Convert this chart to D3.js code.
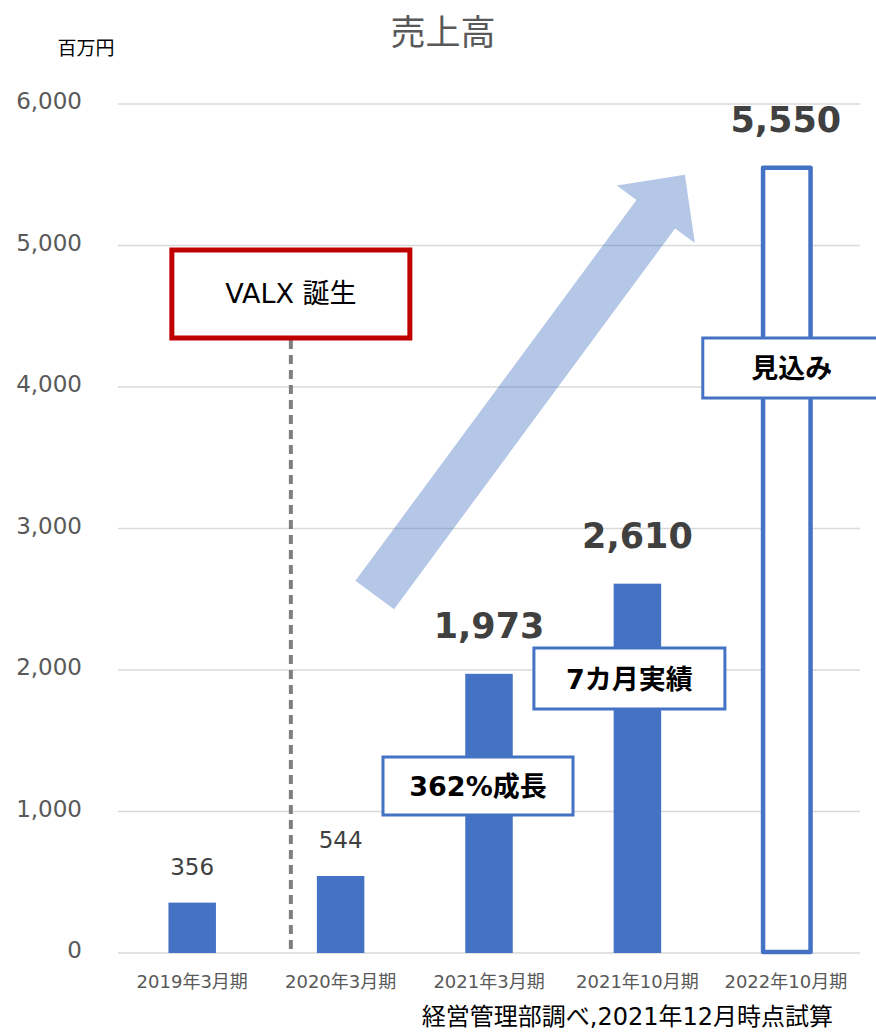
<!DOCTYPE html>
<html lang="ja">
<head>
<meta charset="utf-8" />
<title>売上高</title>
<script src="https://cdn.jsdelivr.net/npm/d3@7"></script>
<style>
  body { margin: 0; background: #fff; }
  svg text { font-family: "DejaVu Sans", "Noto Sans CJK JP", sans-serif; }
  .grid line { stroke: #d9d9d9; stroke-width: 1.5px; }
  .yaxis text, .xaxis text { fill: #595959; }
  .bar { fill: #4472c4; }
  .bar-plan { fill: #fff; stroke: #4472c4; stroke-width: 4.5px; stroke-linejoin: round; }
  .val { fill: #404040; text-anchor: middle; }
  .val-big { font-weight: bold; }
  .note-box { fill: #fff; stroke: #4472c4; stroke-width: 3px; }
  .note-text { fill: #000; font-weight: bold; text-anchor: middle; }
  .valx-box { fill: #fff; stroke: #c00000; stroke-width: 5px; }
  .valx-line { stroke: #7f7f7f; stroke-width: 4px; stroke-dasharray: 9, 6; }
  .growth-arrow { fill: #4472c4; opacity: 0.4; }
</style>
</head>
<body>
<script>
// data
var categories = ["2019年3月期", "2020年3月期", "2021年3月期", "2021年10月期", "2022年10月期"];
var sales = [356, 544, 1973, 2610, 5550];
var bigLabel = [false, false, true, true, true];
var forecast = [false, false, false, false, true];
var yTicks = [0, 1000, 2000, 3000, 4000, 5000, 6000];

var w = 876;
var h = 1033;
var margin = { top: 104, right: 16, bottom: 80, left: 118 };

var svg = d3.select("body").append("svg")
  .attr("width", w)
  .attr("height", h);

var xScale = d3.scaleBand()
  .domain(categories)
  .range([margin.left, w - margin.right])
  .paddingInner(0.68)
  .paddingOuter(0.34);

var yScale = d3.scaleLinear()
  .domain([0, 6000])
  .range([h - margin.bottom, margin.top]);

var bw = xScale.bandwidth();
var step = xScale.step();
// centre of category i (fractional allowed)
function xAt(i) {
  return xScale(categories[0]) + bw / 2 + i * step;
}

// title + unit
svg.append("text")
  .attr("x", 443).attr("y", 45)
  .attr("text-anchor", "middle")
  .style("font-size", "35px")
  .style("fill", "#595959")
  .text("売上高");

svg.append("text")
  .attr("x", 86).attr("y", 55)
  .attr("text-anchor", "middle")
  .style("font-size", "19px")
  .style("fill", "#000")
  .text("百万円");

// gridlines
svg.append("g")
  .attr("class", "grid")
  .selectAll("line")
  .data(yTicks)
  .enter()
  .append("line")
  .attr("x1", margin.left)
  .attr("x2", w - margin.right)
  .attr("y1", function(d) { return yScale(d); })
  .attr("y2", function(d) { return yScale(d); });

var yAxis = d3.axisLeft(yScale)
  .tickValues(yTicks)
  .tickFormat(d3.format(","))
  .tickSize(0)
  .tickPadding(36);

svg.append("g")
  .attr("class", "yaxis")
  .attr("transform", "translate(" + margin.left + ",0)")
  .call(yAxis)
  .call(function(g) { g.select(".domain").remove(); })
  .selectAll("text")
  .attr("dy", "0.2em")
  .style("font-size", "23px");

var xAxis = d3.axisBottom(xScale)
  .tickSize(0)
  .tickPadding(22);

svg.append("g")
  .attr("class", "xaxis")
  .attr("transform", "translate(0," + yScale(0) + ")")
  .call(xAxis)
  .call(function(g) { g.select(".domain").remove(); })
  .selectAll("text")
  .style("font-size", "18px");

// VALX dashed line
var valxX = xScale(categories[1]) - 26;
svg.append("line")
  .attr("class", "valx-line")
  .attr("x1", valxX).attr("x2", valxX)
  .attr("y1", 340).attr("y2", yScale(0) - 4);

// bars
var rows = categories.map(function(c, i) {
  return { cat: c, value: sales[i], big: bigLabel[i], plan: forecast[i] };
});

svg.selectAll(".bar")
  .data(rows.filter(function(d) { return !d.plan; }))
  .enter()
  .append("rect")
  .attr("class", "bar")
  .attr("x", function(d) { return xScale(d.cat); })
  .attr("y", function(d) { return yScale(d.value); })
  .attr("width", bw)
  .attr("height", function(d) { return yScale(0) - yScale(d.value); });

svg.selectAll(".bar-plan")
  .data(rows.filter(function(d) { return d.plan; }))
  .enter()
  .append("rect")
  .attr("class", "bar-plan")
  .attr("x", function(d) { return xScale(d.cat) + 1; })
  .attr("y", function(d) { return yScale(d.value); })
  .attr("width", bw)
  .attr("height", function(d) { return yScale(0) - yScale(d.value) - 1; });

// growth arrow (tail/tip in category index + value)
var tail = [xAt(1.23), yScale(2530)];
var tip = [xAt(3.32), yScale(5500)];
var dx = tip[0] - tail[0], dy = tip[1] - tail[1];
var len = Math.sqrt(dx * dx + dy * dy);
var ux = dx / len, uy = dy / len;
var px = -uy, py = ux;
var shaftW = 48, headW = 97, headL = 49;
var base = [tip[0] - ux * headL, tip[1] - uy * headL];
function pt(p, s) { return [p[0] + px * s, p[1] + py * s]; }
var arrowPts = [
  pt(tail, shaftW / 2), pt(base, shaftW / 2), pt(base, headW / 2), tip,
  pt(base, -headW / 2), pt(base, -shaftW / 2), pt(tail, -shaftW / 2)
];
svg.append("polygon")
  .attr("class", "growth-arrow")
  .attr("points", arrowPts.map(function(p) { return p.join(","); }).join(" "));

// value labels
var fmt = d3.format(",");
svg.selectAll(".val")
  .data(rows)
  .enter()
  .append("text")
  .attr("class", function(d) { return d.big ? "val val-big" : "val"; })
  .attr("x", function(d) { return xScale(d.cat) + bw / 2; })
  .attr("y", function(d) { return yScale(d.value) - (d.big ? 36 : 28); })
  .style("font-size", function(d) { return d.big ? "35px" : "23px"; })
  .text(function(d) { return fmt(d.value); });

// VALX box
svg.append("rect")
  .attr("class", "valx-box")
  .attr("x", valxX - 119).attr("y", 250)
  .attr("width", 238).attr("height", 88);
svg.append("text")
  .attr("x", valxX).attr("y", 303)
  .attr("text-anchor", "middle")
  .style("font-size", "27px")
  .style("fill", "#000")
  .text("VALX 誕生");

// callout boxes
var notes = [
  { cat: categories[2], text: "362%成長", dx: -11, y: 757, w: 190, h: 58 },
  { cat: categories[3], text: "7カ月実績", dx: -8, y: 648, w: 191, h: 61 },
  { cat: categories[4], text: "見込み", dx: 6, y: 338, w: 200, h: 60, wx: 89 }
];
notes.forEach(function(n) {
  var cx = xScale(n.cat) + bw / 2 + n.dx;
  var left = n.wx ? cx - n.wx : cx - n.w / 2;
  svg.append("rect")
    .attr("class", "note-box")
    .attr("x", left).attr("y", n.y)
    .attr("width", n.w).attr("height", n.h);
  svg.append("text")
    .attr("class", "note-text")
    .attr("x", cx).attr("y", n.y + n.h / 2 + 10)
    .style("font-size", "27px")
    .text(n.text);
});

// source
svg.append("text")
  .attr("x", 833).attr("y", 1025)
  .attr("text-anchor", "end")
  .style("font-size", "24px")
  .style("fill", "#000")
  .text("経営管理部調べ,2021年12月時点試算");
</script>
</body>
</html>
